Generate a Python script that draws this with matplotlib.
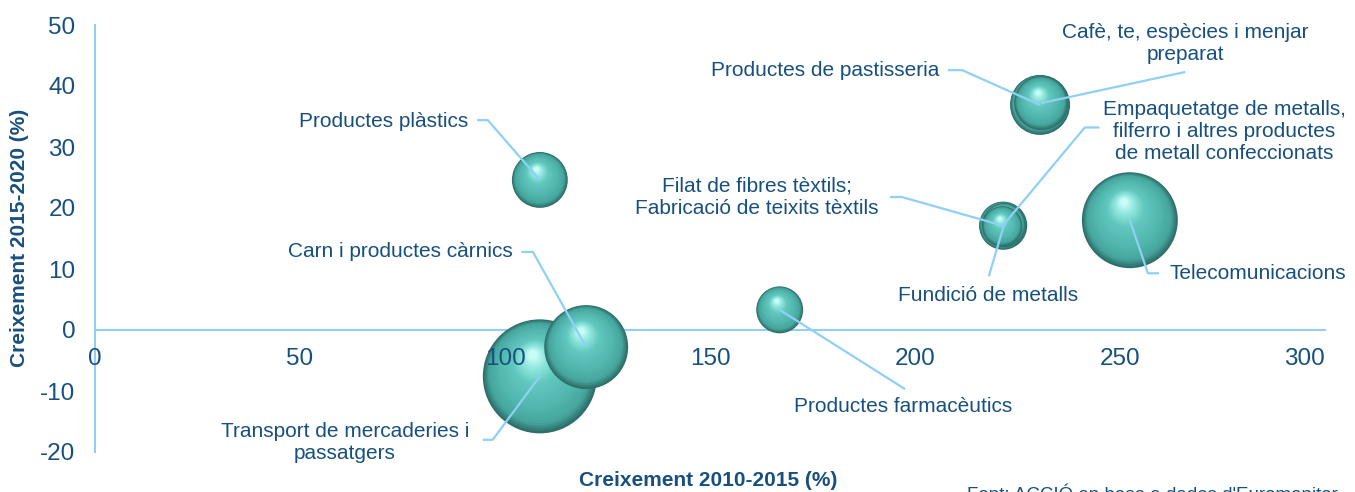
"""Bubble chart: creixement per sectors (2010-2015 vs 2015-2020)."""

import matplotlib
matplotlib.use("Agg")
import matplotlib.pyplot as plt
import matplotlib.transforms as mtransforms
import numpy as np
from matplotlib.colors import LinearSegmentedColormap

plt.rcParams["font.family"] = ["Liberation Sans", "DejaVu Sans"]
plt.rcParams["axes.unicode_minus"] = False

# --- data -----------------------------------------------------------------
sectors = [
    "Transport de mercaderies i\npassatgers",
    "Telecomunicacions",
    "Carn i productes càrnics",
    "Productes de pastisseria",
    "Productes plàstics",
    "Cafè, te, espècies i menjar\npreparat",
    "Filat de fibres tèxtils;\nFabricació de teixits tèxtils",
    "Productes farmacèutics",
    "Fundició de metalls",
    "Empaquetatge de metalls,\nfilferro i altres productes\nde metall confeccionats",
]
creix_2010_2015 = [108.5, 252.4, 119.8, 230.5, 108.5, 230.8, 221.5, 167.0, 221.7, 221.3]
creix_2015_2020 = [-7.6, 18.0, -2.8, 36.9, 24.6, 37.2, 17.1, 3.3, 17.2, 17.0]
volum = [32.5, 23.0, 17.6, 9.0, 7.8, 7.3, 5.8, 5.5, 4.8, 4.0]

x_ticks = [0, 50, 100, 150, 200, 250, 300]
y_ticks = [-20, -10, 0, 10, 20, 30, 40, 50]

# label placement (data coords): text anchor, alignment, leader points
label_layout = {
    "Transport de mercaderies i\npassatgers": ((61.0, -18.4), "center", [(94.6, -18.0), (97.0, -18.0)]),
    "Telecomunicacions": ((262.0, 9.3), "left", [(259.5, 9.3), (256.8, 9.3)]),
    "Carn i productes càrnics": ((101.8, 12.8), "right", [(104.0, 12.8), (106.8, 12.8)]),
    "Productes de pastisseria": ((206.0, 42.6), "right", [(208.0, 42.6), (211.5, 42.6)]),
    "Productes plàstics": ((91.0, 34.1), "right", [(93.2, 34.4), (95.8, 34.4)]),
    "Cafè, te, espècies i menjar\npreparat": ((266.0, 47.0), "center", [(265.9, 42.3)]),
    "Filat de fibres tèxtils;\nFabricació de teixits tèxtils": ((161.5, 21.8), "center", [(193.9, 21.8), (196.8, 21.8)]),
    "Productes farmacèutics": ((197.0, -12.5), "center", [(197.6, -9.7)]),
    "Fundició de metalls": ((217.8, 5.6), "center", [(218.0, 8.8)]),
    "Empaquetatge de metalls,\nfilferro i altres productes\nde metall confeccionats": ((275.5, 32.5), "center", [(245.0, 33.2), (241.4, 33.2)]),
}

TEXT = "#17507e"
LINE = "#8fd0f4"
sphere_cmap = LinearSegmentedColormap.from_list(
    "sphere",
    [(0.0, "#2e6f6a"), (0.12, "#46a69e"), (0.35, "#52b8af"),
     (0.65, "#62c8bf"), (0.85, "#8fe6de"), (1.0, "#c8fcf7")],
)

fig = plt.figure(figsize=(13.55, 4.92), dpi=100)
ax = fig.add_axes([95 / 1355, 40 / 492, 1230 / 1355, 427 / 492])
ax.set_xlim(0, 300)
ax.set_ylim(-20, 50)

for side in ["top", "right"]:
    ax.spines[side].set_visible(False)
ax.spines["bottom"].set_position(("data", 0))
for side in ["left", "bottom"]:
    ax.spines[side].set_color(LINE)
    ax.spines[side].set_linewidth(1.5)
    ax.spines[side].set_zorder(0.5)

ax.set_xticks(x_ticks)
ax.set_yticks(y_ticks)
ax.tick_params(axis="x", length=0, pad=13, labelsize=17.5, labelcolor=TEXT)
ax.tick_params(axis="y", length=0, pad=14, labelsize=17.5, labelcolor=TEXT)
ax.xaxis.set_zorder(30)
ax.get_xticklabels()[-1].set_ha("right")

# shaded spheres: stacked discs shrinking toward a highlight
n_layers = 30
for i, (x, y, v) in enumerate(zip(creix_2010_2015, creix_2015_2020, volum)):
    r_pt = 10 * np.sqrt(v) * 0.72
    for k in range(n_layers):
        t = k / (n_layers - 1)
        rad = r_pt * (1 - 0.92 * t)
        dx = -0.12 * r_pt * t
        dy = 0.38 * r_pt * t
        tr = ax.transData + mtransforms.ScaledTranslation(dx / 72, dy / 72, fig.dpi_scale_trans)
        ax.scatter([x], [y], s=(2 * rad) ** 2, color=sphere_cmap(t),
                   edgecolors="none", transform=tr, zorder=2 + i + t * 0.5)

# labels and leader lines
for name, x, y in zip(sectors, creix_2010_2015, creix_2015_2020):
    (tx, ty), ha, pts = label_layout[name]
    xs = [p[0] for p in pts] + [x]
    ys = [p[1] for p in pts] + [y]
    ax.plot(xs, ys, color=LINE, lw=1.6, zorder=20, solid_capstyle="butt")
    ax.text(tx, ty, name, ha=ha, va="center", fontsize=15, color=TEXT,
            linespacing=1.2, zorder=21)

fig.text(708 / 1355, 11 / 492, "Creixement 2010-2015 (%)", ha="center", va="center",
         fontsize=15, fontweight="bold", color=TEXT)
fig.text(20 / 1355, 254 / 492, "Creixement 2015-2020 (%)", ha="center", va="center",
         rotation=90, fontsize=15, fontweight="bold", color=TEXT)
fig.text(967 / 1355, 5 / 492, "Font: ACCIÓ en base a dades d'Euromonitor", ha="left",
         va="top", fontsize=13.5, color=TEXT)

fig.savefig("out.png", dpi=100)
